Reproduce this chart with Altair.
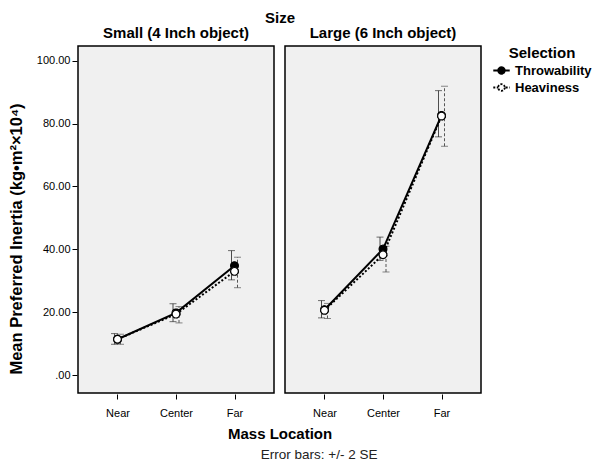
import altair as alt
import pandas as pd

sizes = ["Small (4 Inch object)", "Large (6 Inch object)"]
locations = ["Near", "Center", "Far"]
selections = ["Throwability", "Heaviness"]

# means and +/- 2 SE bounds
throw_mean = {"Small (4 Inch object)": [11.4, 19.8, 34.8], "Large (6 Inch object)": [20.8, 40.1, 82.6]}
throw_lo = {"Small (4 Inch object)": [9.8, 17.0, 30.3], "Large (6 Inch object)": [18.2, 36.5, 75.8]}
throw_hi = {"Small (4 Inch object)": [13.2, 22.7, 39.6], "Large (6 Inch object)": [23.7, 43.9, 90.5]}
heavy_mean = {"Small (4 Inch object)": [11.4, 19.4, 33.0], "Large (6 Inch object)": [20.6, 38.3, 82.4]}
heavy_lo = {"Small (4 Inch object)": [9.8, 16.6, 27.8], "Large (6 Inch object)": [18.0, 32.8, 72.8]}
heavy_hi = {"Small (4 Inch object)": [13.0, 21.8, 37.5], "Large (6 Inch object)": [22.8, 41.0, 91.9]}

rows = []
for s in sizes:
    for i, loc in enumerate(locations):
        rows.append(dict(size=s, loc=loc, sel="Throwability", mean=throw_mean[s][i], lo=throw_lo[s][i], hi=throw_hi[s][i]))
        rows.append(dict(size=s, loc=loc, sel="Heaviness", mean=heavy_mean[s][i], lo=heavy_lo[s][i], hi=heavy_hi[s][i]))
df = pd.DataFrame(rows)

FONT = "Liberation Sans"
H = 347

x = alt.X("loc:N", sort=locations, title=None,
          scale=alt.Scale(type="point", padding=0.675),
          axis=alt.Axis(labelAngle=0, labelFontSize=11, labelColor="black", tickColor="black",
                        domain=False, tickSize=5, labelPadding=8, labelFont=FONT))
yscale = alt.Scale(domain=[-5.7, 104.7], nice=False, zero=False)
y = alt.Y("mean:Q", scale=yscale,
          title="Mean Preferred Inertia (kg•m²×10⁴)",
          axis=alt.Axis(values=[0, 20, 40, 60, 80, 100], grid=False, domain=False,
                        labelExpr="datum.value == 0 ? '.00' : format(datum.value, '.2f')",
                        labelFontSize=11, labelColor="black", tickColor="black", tickSize=5,
                        titleFontSize=16.5, titleFontWeight="bold", titleColor="black",
                        labelFont=FONT, titleFont=FONT, titlePadding=12, titleY=H / 2 + 19))

base = alt.Chart()

def bars(sel, dx, dash, color):
    b = base.transform_filter(alt.datum.sel == sel)
    rule = b.mark_rule(xOffset=dx, strokeWidth=1, strokeDash=dash, color=color).encode(
        x=x, y=alt.Y("lo:Q", scale=yscale), y2="hi:Q")
    cap_lo = b.mark_tick(xOffset=dx, thickness=1, size=7, strokeDash=dash, color=color).encode(
        x=x, y=alt.Y("lo:Q", scale=yscale))
    cap_hi = b.mark_tick(xOffset=dx, thickness=1, size=7, strokeDash=dash, color=color).encode(
        x=x, y=alt.Y("hi:Q", scale=yscale))
    return [rule, cap_lo, cap_hi]

throw_line = base.transform_filter(alt.datum.sel == "Throwability").mark_line(
    color="black", strokeWidth=2).encode(x=x, y=y)
heavy_line = base.transform_filter(alt.datum.sel == "Heaviness").mark_line(
    color="black", strokeWidth=2, strokeDash=[2, 2]).encode(x=x, y=y)

legend = alt.Legend(
    title="Selection", titleFontSize=15, titleFontWeight="bold", titleColor="black",
    titleAnchor="middle",
    labelFontSize=13, labelFontWeight="bold", labelColor="black",
    titleFont=FONT, labelFont=FONT,
    symbolType="M-1,0H-0.4M0.4,0A0.4,0.4,0,1,1,-0.4,0A0.4,0.4,0,1,1,0.4,0H1",
    symbolSize=270, symbolStrokeWidth=1.8, symbolStrokeColor="black",
    labelOffset=4, rowPadding=0, titlePadding=0)
fill = alt.Fill("sel:N", sort=selections, scale=alt.Scale(domain=selections, range=["black", "white"]),
                legend=legend)
dash = alt.StrokeDash("sel:N", sort=selections,
                      scale=alt.Scale(domain=selections, range=[[1, 0], [2, 1.5]]), legend=legend)

pts = base.mark_point(filled=True, size=60, stroke="black", strokeWidth=1.2, opacity=1).encode(
    x=x, y=y, fill=fill, strokeDash=dash, order=alt.Order("sel:N", sort="descending"))
# solid outline over the open markers
heavy_pts = base.transform_filter(alt.datum.sel == "Heaviness").mark_point(
    filled=True, size=60, fill="white", stroke="black", strokeWidth=1.2, opacity=1).encode(x=x, y=y)

layers = bars("Throwability", -3, [1, 0], "#333333") + bars("Heaviness", 3, [3, 2], "#555555") + [
    throw_line, heavy_line, pts, heavy_pts]

facet = alt.layer(*layers, data=df).properties(width=196, height=H).facet(
    column=alt.Column("size:N", sort=sizes,
                      header=alt.Header(title="Size", titleFontSize=15, titleFontWeight="bold",
                                        titleColor="black", titleFont=FONT, titlePadding=-10,
                                        labelFontSize=15, labelFontWeight="bold", labelColor="black",
                                        labelFont=FONT, labelPadding=4)),
    spacing=9,
).properties(
    title=alt.TitleParams(text="Mass Location", orient="bottom", anchor="middle", fontSize=15,
                          fontWeight="bold", color="black", font=FONT, offset=9, dx=35),
)

chart = alt.vconcat(facet, spacing=0).properties(
    title=alt.TitleParams(text="Error bars: +/- 2 SE", orient="bottom", anchor="middle",
                          fontSize=13.5, fontWeight="normal", color="#222222", font=FONT,
                          offset=6, dx=19),
    padding={"left": 0, "right": 0, "top": 3, "bottom": 0},
).configure_view(fill="#f0f0f0", stroke="black", strokeWidth=1.5
).configure_legend(orient="right", offset=10, padding=0)

chart.save("out.html", embed_options={"renderer": "svg", "actions": False})
